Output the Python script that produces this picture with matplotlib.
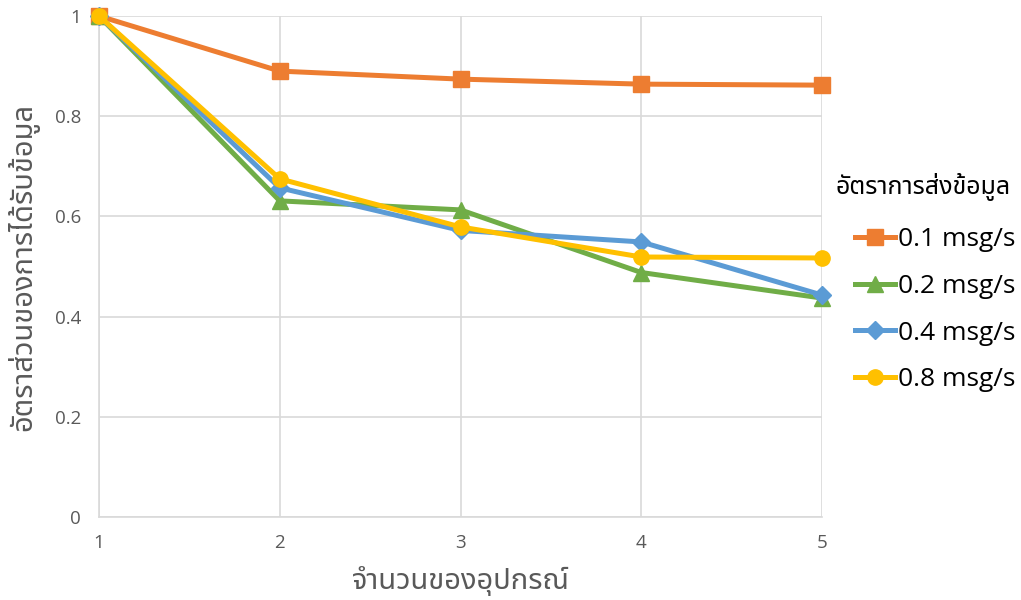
import matplotlib
matplotlib.use("Agg")
import matplotlib.pyplot as plt
from matplotlib import font_manager
from fontTools.ttLib import TTFont

# Data
devices = [1, 2, 3, 4, 5]
rate_01 = [1.0, 0.890, 0.874, 0.864, 0.862]
rate_02 = [1.0, 0.631, 0.613, 0.488, 0.437]
rate_04 = [1.0, 0.657, 0.572, 0.549, 0.443]
rate_08 = [1.0, 0.675, 0.579, 0.519, 0.517]
series_labels = ["0.1 msg/s", "0.2 msg/s", "0.4 msg/s", "0.8 msg/s"]
y_ticks = [0, 0.2, 0.4, 0.6, 0.8, 1]
y_tick_labels = ["0", "0.2", "0.4", "0.6", "0.8", "1"]
x_label = "จำนวนของอุปกรณ์"
y_label = "อัตราส่วนของการได้รับข้อมูล"
legend_title = "อัตราการส่งข้อมูล"


def find_thai_family():
    """Return an installed font family that covers Thai script."""
    preferred = ["Noto Sans Thai", "Noto Sans Thai UI", "Tahoma", "Leelawadee UI",
                 "Loma", "Garuda", "Waree", "Sarabun", "Kinnari", "Norasi"]
    found = {}
    for f in font_manager.fontManager.ttflist:
        try:
            tt = TTFont(f.fname, fontNumber=0, lazy=True)
            cmap = tt.getBestCmap()
            if cmap and 0x0E2D in cmap and 0x0E31 in cmap:
                found.setdefault(f.name, f.fname)
        except Exception:
            continue
    for p in preferred:
        if p in found:
            return p
    return next(iter(found), "DejaVu Sans")


thai = find_thai_family()
plt.rcParams["font.family"] = [thai, "DejaVu Sans"]

tick_color = "#595959"
grid_color = "#d9d9d9"
colors = ["#ed7d31", "#70ad47", "#5b9bd5", "#ffc000"]
markers = ["s", "^", "D", "o"]
msizes = [11, 12, 9, 11]

W, H = 1021, 600
fig = plt.figure(figsize=(W / 100, H / 100), dpi=100)
ax = fig.add_axes([99 / W, 83 / H, 723 / W, 501 / H])

for vals, c, m, ms, lab in zip([rate_01, rate_02, rate_04, rate_08], colors,
                               markers, msizes, series_labels):
    ax.plot(devices, vals, color=c, lw=3.6, marker=m, ms=ms, mfc=c, mec=c,
            label=lab, clip_on=False, zorder=3)

ax.set_xlim(1, 5)
ax.set_ylim(0, 1)
ax.set_xticks(devices)
ax.set_yticks(y_ticks)
ax.set_yticklabels(y_tick_labels)
ax.grid(True, color=grid_color, lw=1.2)
ax.set_axisbelow(True)
for s in ["top", "right"]:
    ax.spines[s].set_visible(False)
for s in ["left", "bottom"]:
    ax.spines[s].set_color(grid_color)
    ax.spines[s].set_linewidth(1.2)
ax.tick_params(length=0, colors=tick_color, labelsize=13.5, pad=12)
for lbl in ax.get_xticklabels() + ax.get_yticklabels():
    lbl.set_family(["Open Sans", "DejaVu Sans"])
ax.tick_params(axis="y", pad=13)

ax.set_xlabel(x_label, fontsize=21, color=tick_color, labelpad=10)
ax.set_ylabel(y_label, fontsize=21, color=tick_color, labelpad=11, fontweight="bold")

# Legend title sits slightly left of the entries
fig.text(835 / W, 1 - 187 / H, legend_title, fontsize=18, color="#000000",
         ha="left", va="center")
leg = fig.legend(loc="upper left", bbox_to_anchor=(850 / W, 1 - 222 / H),
                 borderaxespad=0, frameon=False,
                 prop={"size": 19, "family": ["Open Sans", "DejaVu Sans"]},
                 handlelength=1.5, handletextpad=0.1, labelspacing=0.82,
                 borderpad=0.2)
for t in leg.get_texts():
    t.set_color("#000000")

fig.savefig("out.png", dpi=100)
